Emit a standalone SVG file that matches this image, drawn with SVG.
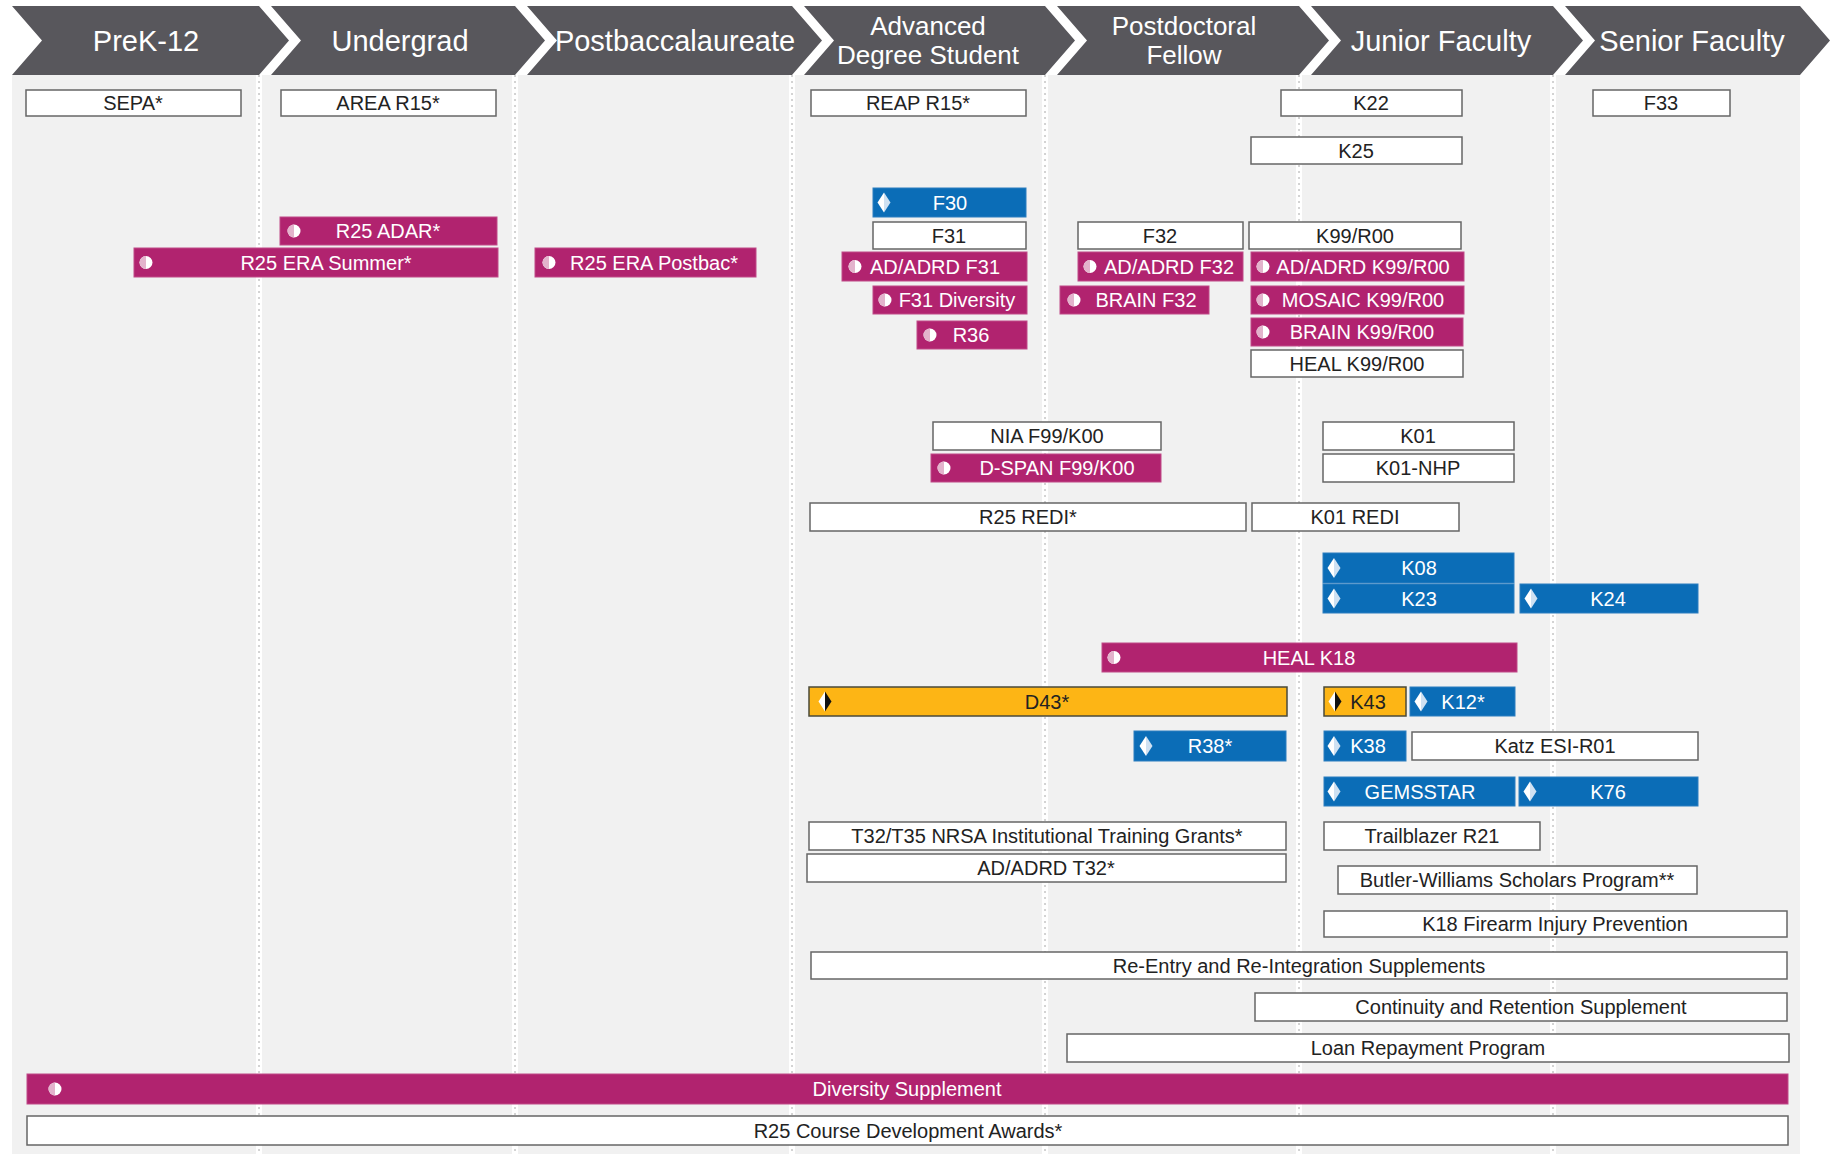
<svg xmlns="http://www.w3.org/2000/svg" xmlns:xlink="http://www.w3.org/1999/xlink" width="1835" height="1154" viewBox="0 0 1835 1154">
<style>
.hdr{fill:#58575c}
.ht{font-family:"Liberation Sans",Arial,sans-serif;font-size:29px;fill:#fff;text-anchor:middle}
.ht2{font-family:"Liberation Sans",Arial,sans-serif;font-size:26px;fill:#fff;text-anchor:middle}
.t{font-family:"Liberation Sans",Arial,sans-serif;font-size:20px;text-anchor:middle}
.w rect{fill:#fff;stroke:#666;stroke-width:1.5}
.w text{fill:#222}
.m rect{fill:#b1236f;stroke:#c04a88;stroke-width:1}
.b rect{fill:#0b6db7;stroke:#2d7fc0;stroke-width:1}
.y rect{fill:#fdb515;stroke:#4a4a3a;stroke-width:1.5}
.m text,.b text{fill:#fff}
.y text{fill:#222}
.sep{stroke:#a8a8a8;stroke-width:1;stroke-dasharray:2 4}
</style>
<defs>
<g id="ic-c"><circle r="6.5" fill="#fff"/><path d="M0,-6.5 A6.5,6.5 0 0 0 0,6.5 Z" fill="#e3b3cc"/></g>
<g id="ic-b"><path d="M0,-10 L-6.5,0 L0,10 Z" fill="#fff"/><path d="M0,-10 L6.5,0 L0,10 Z" fill="#cfe1f2"/></g>
<g id="ic-y"><path d="M0,-10 L-6.5,0 L0,10 Z" fill="#fff"/><path d="M0,-10 L6.5,0 L0,10 Z" fill="#111"/></g>
</defs>
<rect x="0" y="0" width="1835" height="1154" fill="#fff"/>
<rect x="12" y="75" width="1788" height="1079" fill="#f1f1f1"/>
<g id="separators">
<rect x="256" y="75" width="6" height="1079" fill="#fff"/><line class="sep" x1="259" y1="75" x2="259" y2="1154"/>
<rect x="512" y="75" width="6" height="1079" fill="#fff"/><line class="sep" x1="515" y1="75" x2="515" y2="1154"/>
<rect x="789" y="75" width="6" height="1079" fill="#fff"/><line class="sep" x1="792" y1="75" x2="792" y2="1154"/>
<rect x="1042" y="75" width="6" height="1079" fill="#fff"/><line class="sep" x1="1045" y1="75" x2="1045" y2="1154"/>
<rect x="1296" y="75" width="6" height="1079" fill="#fff"/><line class="sep" x1="1299" y1="75" x2="1299" y2="1154"/>
<rect x="1550" y="75" width="6" height="1079" fill="#fff"/><line class="sep" x1="1553" y1="75" x2="1553" y2="1154"/>
</g>
<g id="header">
<g id="h-prek12"><path class="hdr" d="M12,6 L259,6 L289,40.5 L259,75 L12,75 L42,40.5 Z"/><text class="ht" x="146" y="51">PreK-12</text></g>
<g id="h-undergrad"><path class="hdr" d="M271,6 L515,6 L545,40.5 L515,75 L271,75 L301,40.5 Z"/><text class="ht" x="400" y="51">Undergrad</text></g>
<g id="h-postbac"><path class="hdr" d="M527,6 L792,6 L822,40.5 L792,75 L527,75 L557,40.5 Z"/><text class="ht" x="675" y="51">Postbaccalaureate</text></g>
<g id="h-advanced"><path class="hdr" d="M804,6 L1045,6 L1075,40.5 L1045,75 L804,75 L834,40.5 Z"/><text class="ht2" x="928" y="35">Advanced</text><text class="ht2" x="928" y="64">Degree Student</text></g>
<g id="h-postdoc"><path class="hdr" d="M1057,6 L1299,6 L1329,40.5 L1299,75 L1057,75 L1087,40.5 Z"/><text class="ht2" x="1184" y="35">Postdoctoral</text><text class="ht2" x="1184" y="64">Fellow</text></g>
<g id="h-junior"><path class="hdr" d="M1311,6 L1553,6 L1583,40.5 L1553,75 L1311,75 L1341,40.5 Z"/><text class="ht" x="1441" y="51">Junior Faculty</text></g>
<g id="h-senior"><path class="hdr" d="M1565,6 L1800,6 L1830,40.5 L1800,75 L1565,75 L1595,40.5 Z"/><text class="ht" x="1692" y="51">Senior Faculty</text></g>
</g>
<g id="connectors"></g>
<g id="n-sepa" class="w"><rect x="26" y="90" width="215" height="26"/><text class="t" x="133" y="110">SEPA*</text></g>
<g id="n-area" class="w"><rect x="281" y="90" width="215" height="26"/><text class="t" x="388" y="110">AREA R15*</text></g>
<g id="n-reap" class="w"><rect x="811" y="90" width="215" height="26"/><text class="t" x="918" y="110">REAP R15*</text></g>
<g id="n-k22" class="w"><rect x="1281" y="90" width="181" height="26"/><text class="t" x="1371" y="110">K22</text></g>
<g id="n-f33" class="w"><rect x="1593" y="90" width="137" height="26"/><text class="t" x="1661" y="110">F33</text></g>
<g id="n-k25" class="w"><rect x="1251" y="137" width="211" height="27"/><text class="t" x="1356" y="157.5">K25</text></g>
<g id="n-f30" class="b"><rect x="873" y="188" width="153" height="29"/><use xlink:href="#ic-b" x="884" y="202.5"/><text class="t" x="950" y="209.5">F30</text></g>
<g id="n-adar" class="m"><rect x="280" y="217" width="217" height="28"/><use xlink:href="#ic-c" x="294" y="231"/><text class="t" x="388" y="238">R25 ADAR*</text></g>
<g id="n-f31" class="w"><rect x="873" y="222" width="153" height="27"/><text class="t" x="949" y="242.5">F31</text></g>
<g id="n-f32" class="w"><rect x="1078" y="222" width="165" height="27"/><text class="t" x="1160" y="242.5">F32</text></g>
<g id="n-k99" class="w"><rect x="1249" y="222" width="212" height="27"/><text class="t" x="1355" y="242.5">K99/R00</text></g>
<g id="n-erasummer" class="m"><rect x="134" y="248" width="364" height="29"/><use xlink:href="#ic-c" x="146" y="262.5"/><text class="t" x="326" y="269.5">R25 ERA Summer*</text></g>
<g id="n-erapostbac" class="m"><rect x="535" y="248" width="221" height="29"/><use xlink:href="#ic-c" x="549" y="262.5"/><text class="t" x="654" y="269.5">R25 ERA Postbac*</text></g>
<g id="n-adrdf31" class="m"><rect x="842" y="252" width="185" height="29"/><use xlink:href="#ic-c" x="855" y="266.5"/><text class="t" x="935" y="273.5">AD/ADRD F31</text></g>
<g id="n-adrdf32" class="m"><rect x="1078" y="252" width="165" height="29"/><use xlink:href="#ic-c" x="1090" y="266.5"/><text class="t" x="1169" y="273.5">AD/ADRD F32</text></g>
<g id="n-adrdk99" class="m"><rect x="1251" y="252" width="213" height="29"/><use xlink:href="#ic-c" x="1263" y="266.5"/><text class="t" x="1363" y="273.5">AD/ADRD K99/R00</text></g>
<g id="n-f31div" class="m"><rect x="873" y="286" width="154" height="28"/><use xlink:href="#ic-c" x="885" y="300"/><text class="t" x="957" y="307">F31 Diversity</text></g>
<g id="n-brainf32" class="m"><rect x="1060" y="286" width="149" height="28"/><use xlink:href="#ic-c" x="1074" y="300"/><text class="t" x="1146" y="307">BRAIN F32</text></g>
<g id="n-mosaic" class="m"><rect x="1251" y="286" width="213" height="28"/><use xlink:href="#ic-c" x="1263" y="300"/><text class="t" x="1363" y="307">MOSAIC K99/R00</text></g>
<g id="n-r36" class="m"><rect x="917" y="321" width="110" height="28"/><use xlink:href="#ic-c" x="930" y="335"/><text class="t" x="971" y="342">R36</text></g>
<g id="n-braink99" class="m"><rect x="1251" y="318" width="212" height="28"/><use xlink:href="#ic-c" x="1263" y="332"/><text class="t" x="1362" y="339">BRAIN K99/R00</text></g>
<g id="n-healk99" class="w"><rect x="1251" y="350" width="212" height="27"/><text class="t" x="1357" y="370.5">HEAL K99/R00</text></g>
<g id="n-nia" class="w"><rect x="933" y="422" width="228" height="28"/><text class="t" x="1047" y="443">NIA F99/K00</text></g>
<g id="n-dspan" class="m"><rect x="931" y="454" width="230" height="28"/><use xlink:href="#ic-c" x="944" y="468"/><text class="t" x="1057" y="475">D-SPAN F99/K00</text></g>
<g id="n-k01" class="w"><rect x="1323" y="422" width="191" height="28"/><text class="t" x="1418" y="443">K01</text></g>
<g id="n-k01nhp" class="w"><rect x="1323" y="454" width="191" height="28"/><text class="t" x="1418" y="475">K01-NHP</text></g>
<g id="n-redi" class="w"><rect x="810" y="503" width="436" height="28"/><text class="t" x="1028" y="524">R25 REDI*</text></g>
<g id="n-k01redi" class="w"><rect x="1252" y="503" width="207" height="28"/><text class="t" x="1355" y="524">K01 REDI</text></g>
<g id="n-k08" class="b"><rect x="1323" y="553" width="191" height="30"/><use xlink:href="#ic-b" x="1334" y="568"/><text class="t" x="1419" y="575">K08</text></g>
<g id="n-k23" class="b"><rect x="1323" y="584" width="191" height="29"/><use xlink:href="#ic-b" x="1334" y="598.5"/><text class="t" x="1419" y="605.5">K23</text></g>
<g id="n-k24" class="b"><rect x="1520" y="584" width="178" height="29"/><use xlink:href="#ic-b" x="1531" y="598.5"/><text class="t" x="1608" y="605.5">K24</text></g>
<g id="n-healk18" class="m"><rect x="1102" y="643" width="415" height="29"/><use xlink:href="#ic-c" x="1114" y="657.5"/><text class="t" x="1309" y="664.5">HEAL K18</text></g>
<g id="n-d43" class="y"><rect x="809" y="687" width="478" height="29"/><use xlink:href="#ic-y" x="825" y="701.5"/><text class="t" x="1047" y="708.5">D43*</text></g>
<g id="n-k43" class="y"><rect x="1324" y="687" width="82" height="29"/><use xlink:href="#ic-y" x="1335" y="701.5"/><text class="t" x="1368" y="708.5">K43</text></g>
<g id="n-k12" class="b"><rect x="1410" y="687" width="105" height="29"/><use xlink:href="#ic-b" x="1421" y="701.5"/><text class="t" x="1463" y="708.5">K12*</text></g>
<g id="n-r38" class="b"><rect x="1134" y="731" width="152" height="30"/><use xlink:href="#ic-b" x="1146" y="746"/><text class="t" x="1210" y="753">R38*</text></g>
<g id="n-k38" class="b"><rect x="1324" y="731" width="82" height="30"/><use xlink:href="#ic-b" x="1334" y="746"/><text class="t" x="1368" y="753">K38</text></g>
<g id="n-katz" class="w"><rect x="1412" y="732" width="286" height="28"/><text class="t" x="1555" y="753">Katz ESI-R01</text></g>
<g id="n-gemsstar" class="b"><rect x="1324" y="777" width="191" height="29"/><use xlink:href="#ic-b" x="1334" y="791.5"/><text class="t" x="1420" y="798.5">GEMSSTAR</text></g>
<g id="n-k76" class="b"><rect x="1519" y="777" width="179" height="29"/><use xlink:href="#ic-b" x="1530" y="791.5"/><text class="t" x="1608" y="798.5">K76</text></g>
<g id="n-t32" class="w"><rect x="809" y="822" width="477" height="28"/><text class="t" x="1047" y="843">T32/T35 NRSA Institutional Training Grants*</text></g>
<g id="n-trailblazer" class="w"><rect x="1324" y="822" width="216" height="28"/><text class="t" x="1432" y="843">Trailblazer R21</text></g>
<g id="n-adrdt32" class="w"><rect x="807" y="854" width="479" height="28"/><text class="t" x="1046" y="875">AD/ADRD T32*</text></g>
<g id="n-butler" class="w"><rect x="1338" y="866" width="359" height="28"/><text class="t" x="1517" y="887">Butler-Williams Scholars Program**</text></g>
<g id="n-k18fire" class="w"><rect x="1324" y="911" width="463" height="26"/><text class="t" x="1555" y="931">K18 Firearm Injury Prevention</text></g>
<g id="n-reentry" class="w"><rect x="811" y="952" width="976" height="27"/><text class="t" x="1299" y="972.5">Re-Entry and Re-Integration Supplements</text></g>
<g id="n-continuity" class="w"><rect x="1255" y="993" width="532" height="28"/><text class="t" x="1521" y="1014">Continuity and Retention Supplement</text></g>
<g id="n-loan" class="w"><rect x="1067" y="1034" width="722" height="28"/><text class="t" x="1428" y="1055">Loan Repayment Program</text></g>
<g id="n-diversity" class="m"><rect x="27" y="1074" width="1761" height="30"/><use xlink:href="#ic-c" x="55" y="1089"/><text class="t" x="907" y="1096">Diversity Supplement</text></g>
<g id="n-r25course" class="w"><rect x="27" y="1116" width="1761" height="29"/><text class="t" x="908" y="1137.5">R25 Course Development Awards*</text></g>
</svg>
